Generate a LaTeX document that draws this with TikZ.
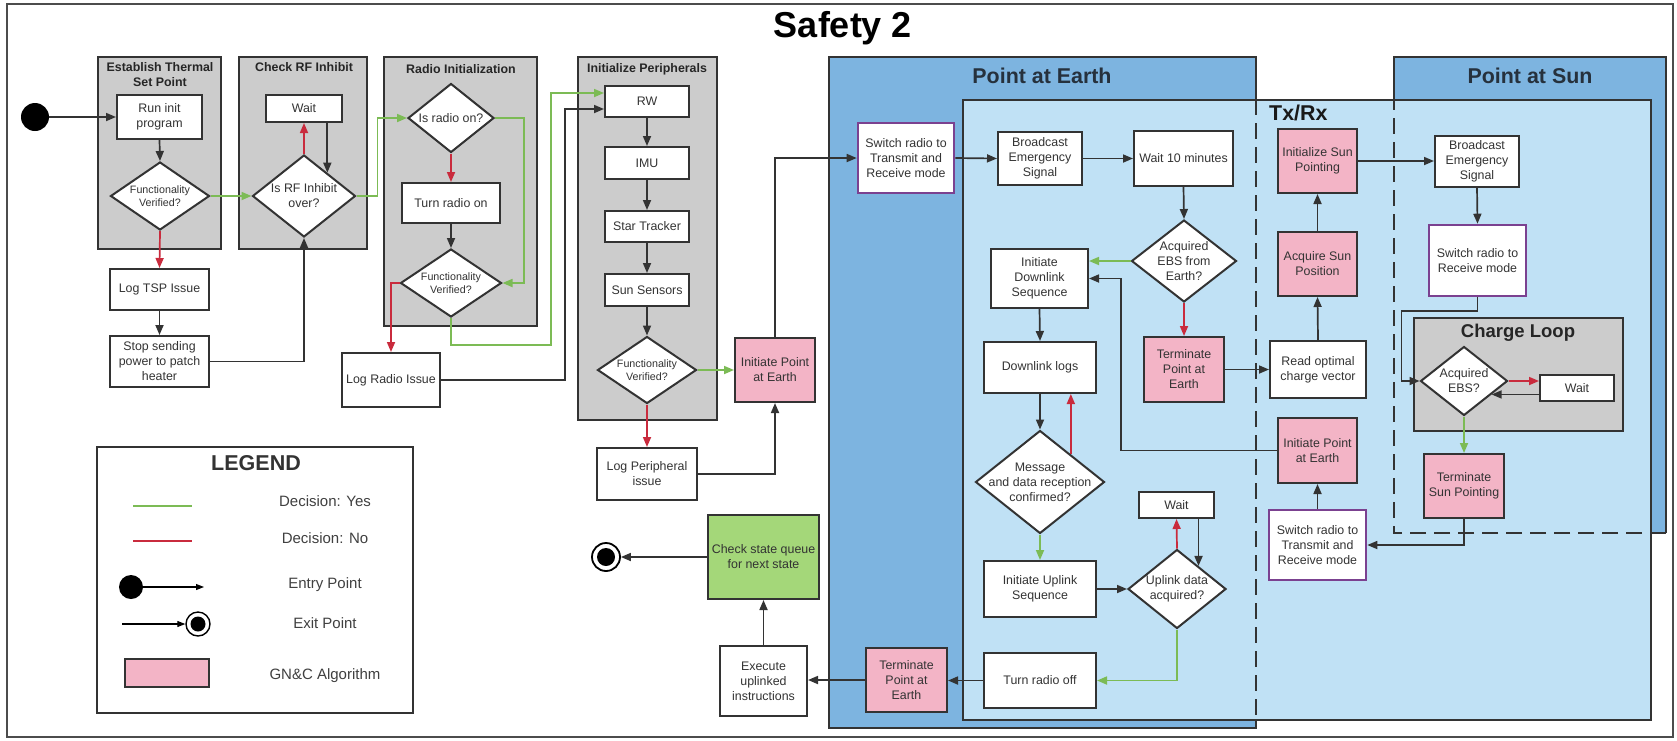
\documentclass[tikz,border=0pt]{standalone}
\usepackage{fontspec}
\setmainfont{Liberation Sans}
\usetikzlibrary{arrows.meta,shapes.geometric}

\definecolor{linec}{HTML}{333333}
\definecolor{textc}{HTML}{333333}
\definecolor{grayc}{HTML}{CCCCCC}
\definecolor{bluemid}{HTML}{7DB4E0}
\definecolor{bluelight}{HTML}{C0E1F5}
\definecolor{pinkc}{HTML}{F3B4C6}
\definecolor{greenfill}{HTML}{A4D779}
\definecolor{purplec}{HTML}{7B4190}
\definecolor{yesc}{HTML}{7CBB55}
\definecolor{noc}{HTML}{C92B3D}
\definecolor{navyc}{HTML}{26313D}

\newcommand\bodyfnt{\fontsize{12.4pt}{15pt}\selectfont}
\newcommand\smallfnt{\fontsize{10.7pt}{13pt}\selectfont}
\newcommand\headfnt{\bfseries\fontsize{12.4pt}{15pt}\selectfont}
\newcommand\regionfnt{\bfseries\fontsize{21.4pt}{25pt}\selectfont}
\newcommand\legfnt{\fontsize{15pt}{18pt}\selectfont}

\begin{document}
\begin{tikzpicture}[x=1pt,y=-1pt,
  box/.style={draw=linec, line width=2pt, fill=white, inner sep=0pt, align=center, font=\bodyfnt, text=textc},
  pinkbox/.style={box, fill=pinkc},
  purplebox/.style={box, draw=purplec, line width=2.6pt},
  dec/.style={diamond, draw=linec, line width=2pt, fill=white, inner sep=0pt},
  dlabel/.style={align=center, font=\bodyfnt, text=textc, inner sep=0pt},
  slabel/.style={align=center, font=\smallfnt, text=textc, inner sep=0pt},
  grp/.style={draw=linec, line width=2pt, fill=grayc, inner sep=0pt},
  grptitle/.style={font=\headfnt, text=black!85, align=center, inner sep=0pt},
  regiontitle/.style={font=\regionfnt, text=navyc, inner sep=0pt},
  grpline/.style={draw=linec, line width=2pt},
  dashln/.style={draw=linec, line width=1.8pt, dash pattern=on 16pt off 8pt},
  arr/.style={draw=linec, line width=1.7pt, -{Triangle[length=10pt,width=8pt]}},
  yes/.style={arr, draw=yesc},
  no/.style={arr, draw=noc},
  legarr/.style={draw=black, line width=1.1pt, -{Triangle[length=8pt,width=6pt]}},
  legtext/.style={font=\legfnt, text=black!75, inner sep=0pt},
  exitpt/.style={circle, draw=black, line width=1.8pt, fill=white, inner sep=0pt,
    path picture={\fill[black] (path picture bounding box.center) circle[radius=#1];}}
]
\useasboundingbox (0,0) rectangle (1677,740);

% frame and heading
\draw[draw=black!70, line width=1.8pt] (7,4) rectangle (1673,737);
\node[font=\bfseries\fontsize{36pt}{40pt}\selectfont, inner sep=0pt] (title) at (843,28) {Safety 2};

% ---------- grey swimlane groups ----------
\node[grp, minimum width=123pt, minimum height=192pt] (gtsp) at (159.5,153) {};
\node[grptitle] (gtspT) at (160,74.5) {Establish Thermal\\Set Point};
\node[grp, minimum width=128pt, minimum height=192pt] (grf) at (303,153) {};
\node[grptitle] (grfT) at (304,67) {Check RF Inhibit};
\node[grp, minimum width=153pt, minimum height=269pt] (grad) at (460.5,191.5) {};
\node[grptitle] (gradT) at (461,69) {Radio Initialization};
\node[grp, minimum width=139pt, minimum height=363pt] (gper) at (647.5,238.5) {};
\node[grptitle] (gperT) at (647,69) {Initialize Peripherals};

% ---------- blue regions ----------
\node[fill=bluemid, minimum width=427pt, minimum height=671pt, inner sep=0pt] (pae) at (1042.5,392.5) {};
\node[fill=bluemid, minimum width=272pt, minimum height=476pt, inner sep=0pt] (pas) at (1530,295) {};
\node[draw=linec, line width=2pt, fill=bluelight, minimum width=688pt, minimum height=620pt, inner sep=0pt] (txrx) at (1307,410) {};
\draw[grpline] (pae.east |- txrx.north) -- (pae.north east) -- (pae.north west) -- (pae.south west) -- (pae.south east) -- (pae.east |- txrx.south);
\draw[dashln] (pae.east |- txrx.north) -- (pae.east |- txrx.south);
\draw[grpline] (pas.west |- txrx.north) -- (pas.north west) -- (pas.north east) -- (pas.south east);
\draw[dashln] (pas.south east) -- (pas.south west) -- (pas.west |- txrx.north);
\node[regiontitle] (paeT) at (1042,76) {Point at Earth};
\node[regiontitle] (pasT) at (1530,76) {Point at Sun};
\node[regiontitle, text=black!90, anchor=west] (txrxT) at (1269,113) {Tx/Rx};

\node[grp, minimum width=209pt, minimum height=113pt] (gcl) at (1518.5,374.5) {};
\node[font=\bfseries\fontsize{18.5pt}{22pt}\selectfont, text=black!85, inner sep=0pt] (gclT) at (1518,333) {Charge Loop};

% ---------- start / thermal set point ----------
\node[circle, fill=black, minimum size=28pt, inner sep=0pt] (entry) at (35,117) {};
\node[box, minimum width=85pt, minimum height=44pt] (run) at (159.5,117) {Run init\\program};
\node[dec, minimum width=99pt, minimum height=68pt, label={[slabel]center:{Functionality\\Verified?}}] (fv1) at (160,196) {};
\node[box, minimum width=99pt, minimum height=41pt] (logtsp) at (159.5,289.5) {Log TSP Issue};
\node[box, minimum width=99pt, minimum height=51pt] (stop) at (159.5,361.5) {Stop sending\\power to patch\\heater};

% ---------- RF inhibit ----------
\node[box, minimum width=76pt, minimum height=27pt] (wait1) at (304,108.5) {Wait};
\node[dec, minimum width=103pt, minimum height=82pt, label={[dlabel]center:{Is RF Inhibit\\over?}}] (rfq) at (304,196) {};

% ---------- radio initialization ----------
\node[dec, minimum width=86pt, minimum height=69pt, label={[dlabel]center:{Is radio on?}}] (radq) at (451,118) {};
\node[box, minimum width=98pt, minimum height=40pt] (turnon) at (451,203) {Turn radio on};
\node[dec, minimum width=101pt, minimum height=68pt, label={[slabel]center:{Functionality\\Verified?}}] (fv2) at (451,283) {};
\node[box, minimum width=98pt, minimum height=54pt] (logradio) at (391,380) {Log Radio Issue};

% ---------- peripherals ----------
\node[box, minimum width=84pt, minimum height=31pt] (rw) at (647,101.5) {RW};
\node[box, minimum width=84pt, minimum height=32pt] (imu) at (647,163) {IMU};
\node[box, minimum width=84pt, minimum height=31pt] (star) at (647,226.5) {Star Tracker};
\node[box, minimum width=84pt, minimum height=32pt] (sunsens) at (647,290) {Sun Sensors};
\node[dec, minimum width=99pt, minimum height=67pt, label={[slabel]center:{Functionality\\Verified?}}] (fv3) at (647,370) {};
\node[box, minimum width=100pt, minimum height=52pt] (logperi) at (647,474) {Log Peripheral\\issue};
\node[pinkbox, minimum width=80pt, minimum height=64pt] (initpae1) at (775,370) {Initiate Point\\at Earth};

% ---------- point at earth / tx-rx ----------
\node[purplebox, minimum width=96pt, minimum height=70pt] (switch1) at (906,158) {Switch radio to\\Transmit and\\Receive mode};
\node[box, minimum width=84pt, minimum height=53pt] (bcast1) at (1040,158.5) {Broadcast\\Emergency\\Signal};
\node[box, minimum width=99pt, minimum height=55pt] (wait10) at (1183.5,158.5) {Wait 10 minutes};
\node[dec, minimum width=105pt, minimum height=82pt, label={[dlabel]center:{Acquired\\EBS from\\Earth?}}] (ebsq) at (1184,261) {};
\node[box, minimum width=97pt, minimum height=59pt] (initdl) at (1039.5,278.5) {Initiate\\Downlink\\Sequence};
\node[pinkbox, minimum width=80pt, minimum height=65pt] (term1) at (1184,369.5) {Terminate\\Point at\\Earth};
\node[box, minimum width=112pt, minimum height=51pt] (dllogs) at (1040,367.5) {Downlink logs};
\node[dec, minimum width=129pt, minimum height=103pt, label={[dlabel]center:{Message\\and data reception\\confirmed?}}] (msgq) at (1040,482) {};
\node[box, minimum width=112pt, minimum height=56pt] (initul) at (1040,589) {Initiate Uplink\\Sequence};
\node[dec, minimum width=98pt, minimum height=79pt, label={[dlabel]center:{Uplink data\\acquired?}}] (ulq) at (1177,589) {};
\node[box, minimum width=75pt, minimum height=26pt] (wait2) at (1176.5,505) {Wait};
\node[box, minimum width=112pt, minimum height=55pt] (radiooff) at (1040,680.5) {Turn radio off};
\node[pinkbox, minimum width=81pt, minimum height=64pt] (term2) at (906.5,680) {Terminate\\Point at\\Earth};
\node[box, minimum width=87pt, minimum height=70pt] (exec) at (763.5,681) {Execute\\uplinked\\instructions};
\node[box, fill=greenfill, minimum width=111pt, minimum height=84pt] (check) at (763.5,557) {Check state queue\\for next state};
\node[exitpt=9pt, minimum size=28pt] (exit) at (606,557) {};

% ---------- sun pointing ----------
\node[pinkbox, minimum width=79pt, minimum height=64pt] (initsun) at (1317.5,161) {Initialize Sun\\Pointing};
\node[pinkbox, minimum width=79pt, minimum height=64pt] (acqsun) at (1317.5,264) {Acquire Sun\\Position};
\node[box, minimum width=96pt, minimum height=57pt] (readcv) at (1318,369.5) {Read optimal\\charge vector};
\node[pinkbox, minimum width=79pt, minimum height=65pt] (initpae2) at (1317.5,450.5) {Initiate Point\\at Earth};
\node[purplebox, minimum width=97pt, minimum height=70pt] (switch2) at (1317.5,545) {Switch radio to\\Transmit and\\Receive mode};
\node[box, minimum width=84pt, minimum height=51pt] (bcast2) at (1477,161.5) {Broadcast\\Emergency\\Signal};
\node[purplebox, minimum width=97pt, minimum height=71pt] (switchrx) at (1477.5,260.5) {Switch radio to\\Receive mode};
\node[dec, minimum width=87pt, minimum height=69pt, label={[dlabel]center:{Acquired\\EBS?}}] (ebs2) at (1464,381) {};
\node[box, minimum width=74pt, minimum height=26pt] (wait3) at (1577,388) {Wait};
\node[pinkbox, minimum width=80pt, minimum height=64pt] (termsun) at (1464,486) {Terminate\\Sun Pointing};

% ---------- connectors ----------
\draw[arr] (entry) -- (run.west);
\draw[arr] (run.south) -- (fv1.north);
\draw[yes] (fv1.east) -- (rfq.west);
\draw[no] (fv1.south) -- (logtsp.north);
\draw[arr] (logtsp.south) -- (stop.north);
\draw[arr] (stop.east) -| (rfq.south);
\draw[no] (rfq.north) -- (wait1.south);
\draw[arr] (wait1.south -| rfq.45) -- (rfq.45);
\draw[yes] (rfq.east) -- ++(21,0) |- (radq.west);
\draw[no] (radq.south) -- (turnon.north);
\draw[arr] (turnon.south) -- (fv2.north);
\draw[yes] (radq.east) -- ++(29,0) |- (fv2.east);
\draw[no] (fv2.west) -| (logradio.north);
\draw[yes] (fv2.south) -- ++(0,27) -- ++(100,0) |- ([yshift=8.5pt]rw.west);
\draw[arr] (logradio.east) -- ++(124,0) |- ([yshift=-7.5pt]rw.west);
\draw[arr] (rw.south) -- (imu.north);
\draw[arr] (imu.south) -- (star.north);
\draw[arr] (star.south) -- (sunsens.north);
\draw[arr] (sunsens.south) -- (fv3.north);
\draw[yes] (fv3.east) -- (initpae1.west);
\draw[no] (fv3.south) -- (logperi.north);
\draw[arr] (logperi.east) -| (initpae1.south);
\draw[arr] (initpae1.north) |- (switch1.west);
\draw[arr] (switch1.east) -- (bcast1.west);
\draw[arr] (bcast1.east) -- (wait10.west);
\draw[arr] (wait10.south) -- (ebsq.north);
\draw[yes] (ebsq.west) -- (ebsq.west -| initdl.east);
\draw[no] (ebsq.south) -- (term1.north);
\draw[arr] (term1.east) -- (term1.east -| readcv.west);
\draw[arr] (readcv.north) -- (acqsun.south);
\draw[arr] (acqsun.north) -- (initsun.south);
\draw[arr] (initsun.east) -- (initsun.east -| bcast2.west);
\draw[arr] (bcast2.south) -- (switchrx.north);
\draw[arr] (switchrx.south) -- ++(0,14) -- ++(-76,0) |- (ebs2.west);
\draw[no] (ebs2.east) -- (ebs2.east -| wait3.west);
\draw[arr] (ebs2.-26 -| wait3.west) -- (ebs2.-26);
\draw[yes] (ebs2.south) -- (termsun.north);
\draw[arr] (termsun.south) |- (switch2.east);
\draw[arr] (switch2.north) -- (initpae2.south);
\draw[arr] (initpae2.west) -- ++(-156,0) |- (initdl.east);
\draw[arr] (initdl.south) -- (dllogs.north);
\draw[arr] (dllogs.south) -- (msgq.north);
\draw[no] (msgq.42) -- (msgq.42 |- dllogs.south);
\draw[yes] (msgq.south) -- (initul.north);
\draw[arr] (initul.east) -- (ulq.west);
\draw[no] (ulq.north) -- (wait2.south);
\draw[arr] (wait2.south -| ulq.47) -- (ulq.47);
\draw[yes] (ulq.south) |- (radiooff.east);
\draw[arr] (radiooff.west) -- (radiooff.west -| term2.east);
\draw[arr] (term2.west) -- (term2.west -| exec.east);
\draw[arr] (exec.north) -- (check.south);
\draw[arr] (check.west) -- (exit);

% ---------- legend ----------
\node[draw=linec, line width=1.6pt, fill=white, minimum width=316pt, minimum height=266pt, inner sep=0pt] (legend) at (255,580) {};
\node[font=\bfseries\fontsize{21.5pt}{25pt}\selectfont, text=textc, inner sep=0pt] (legT) at (256,463) {LEGEND};
\coordinate (ly1) at (133,506);
\coordinate (ly2) at (192,506);
\draw[draw=yesc, line width=1.2pt] (ly1) -- (ly2);
\node[legtext] (legyes) at (325,501) {Decision: Yes};
\coordinate (ln1) at (133,541);
\coordinate (ln2) at (192,541);
\draw[draw=noc, line width=1.2pt] (ln1) -- (ln2);
\node[legtext] (legno) at (325,538) {Decision: No};
\node[circle, fill=black, minimum size=24pt, inner sep=0pt] (lentry) at (131,587) {};
\coordinate (lentryEnd) at (204,587);
\draw[legarr] (lentry) -- (lentryEnd);
\node[legtext] (legentry) at (325,585) {Entry Point};
\node[exitpt=7.5pt, minimum size=24pt, line width=1.4pt] (lexit) at (198,624) {};
\coordinate (lexitStart) at (122,624);
\draw[legarr] (lexitStart) -- (lexit);
\node[legtext] (legexit) at (325,623) {Exit Point};
\node[draw=linec, line width=1.6pt, fill=pinkc, minimum width=84pt, minimum height=28pt, inner sep=0pt] (lpink) at (167,673) {};
\node[legtext] (leggnc) at (325,676) {GN\&C Algorithm};
\end{tikzpicture}
\end{document}
